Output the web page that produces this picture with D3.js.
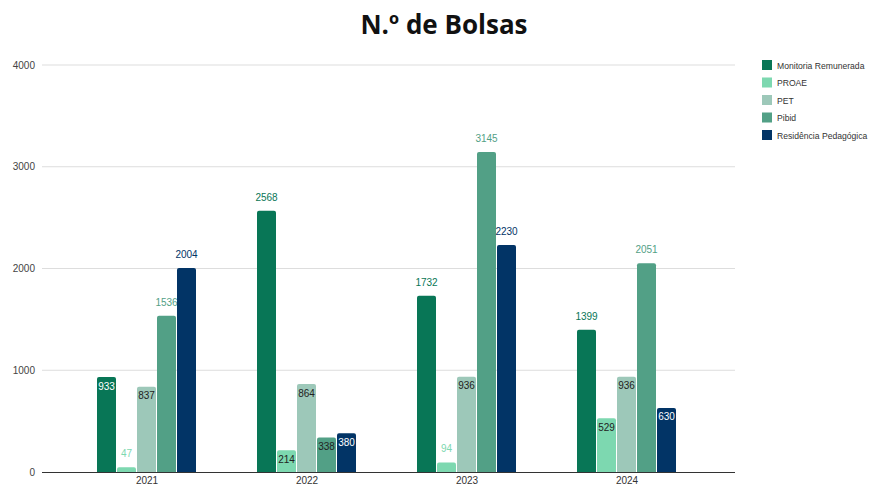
<!DOCTYPE html>
<html><head><meta charset="utf-8">
<script src="https://cdn.jsdelivr.net/npm/d3@7"></script>
<style>body{margin:0;background:#fff;} svg{display:block;}</style>
</head><body>
<svg id="chart" width="869" height="484"></svg>
<script>
const years = ["2021","2022","2023","2024"];
const seriesNames = ["Monitoria Remunerada","PROAE","PET","Pibid","Residência Pedagógica"];
const monitoria = [933,2568,1732,1399];
const proae = [47,214,94,529];
const pet = [837,864,936,936];
const pibid = [1536,338,3145,2051];
const residencia = [2004,380,2230,630];
const yTicks = [0,1000,2000,3000,4000];
const colors = ["#087656","#7dd8b0","#9dc8b9","#52a086","#023466"];
const insideText = ["#ffffff","#222222","#222222","#222222","#ffffff"];
const values = [monitoria, proae, pet, pibid, residencia];

const svg = d3.select("#chart");
const font = "'Liberation Sans', Arial, sans-serif";

svg.append("text").attr("x",444).attr("y",34).attr("text-anchor","middle")
  .attr("font-family","'Open Sans', sans-serif").attr("font-weight","bold").attr("font-size",26)
  .attr("fill","#111").text("N.º de Bolsas");

const y = d3.scaleLinear().domain([0,4000]).range([472,65]);
const x0 = d3.scaleBand().domain(years).range([67,707]).paddingInner(0.375).paddingOuter(0.1875);
const x1 = d3.scaleBand().domain(seriesNames).range([0,x0.bandwidth()]);

// grid
svg.append("g").selectAll("line").data(yTicks.filter(d=>d>0)).join("line")
  .attr("x1",42).attr("x2",735).attr("y1",d=>y(d)).attr("y2",d=>y(d))
  .attr("stroke","#dddddd").attr("stroke-width",1);
svg.append("g").selectAll("text").data(yTicks).join("text")
  .attr("x",35).attr("y",d=>y(d)+3.5).attr("text-anchor","end")
  .attr("font-family",font).attr("font-size",10).attr("fill","#444").text(d=>d);

// bars
const gBars = svg.append("g");
seriesNames.forEach((s,si)=>{
  years.forEach((yr,yi)=>{
    const v = values[si][yi];
    const bx = x0(yr)+x1(s);
    const bw = x1.bandwidth()-1;
    const top = y(v);
    gBars.append("path")
      .attr("d",`M${bx},${y(0)}V${top+2}Q${bx},${top} ${bx+2},${top}H${bx+bw-2}Q${bx+bw},${top} ${bx+bw},${top+2}V${y(0)}Z`)
      .attr("fill",colors[si]);
    const outside = v>=1000 || v<150;
    gBars.append("text")
      .attr("x",bx+bw/2)
      .attr("y", outside ? top-10 : top+12.5)
      .attr("text-anchor","middle").attr("font-family",font).attr("font-size",10)
      .attr("fill", outside ? colors[si] : insideText[si])
      .text(v);
  });
});

// baseline
svg.append("line").attr("x1",42).attr("x2",735).attr("y1",472.5).attr("y2",472.5)
  .attr("stroke","#333").attr("stroke-width",1);
svg.append("g").selectAll("text").data(years).join("text")
  .attr("x",d=>x0(d)+x0.bandwidth()/2).attr("y",484).attr("text-anchor","middle")
  .attr("font-family",font).attr("font-size",10).attr("fill","#333").text(d=>d);

// legend
const lg = svg.append("g");
seriesNames.forEach((s,i)=>{
  lg.append("rect").attr("x",762).attr("y",60+i*17.5).attr("width",10).attr("height",10).attr("fill",colors[i]);
  lg.append("text").attr("x",777).attr("y",68.5+i*17.5).attr("font-family",font).attr("font-size",8.6)
    .attr("fill","#333").text(s);
});
</script>
</body></html>
